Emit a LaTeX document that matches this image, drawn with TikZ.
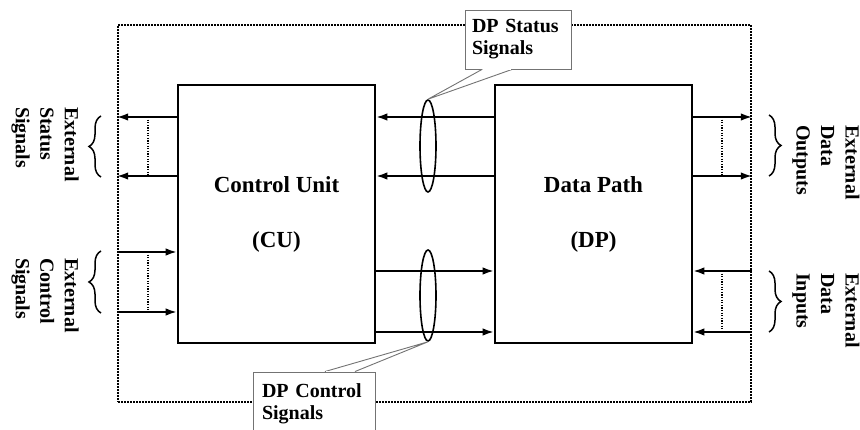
\documentclass[tikz,border=0pt]{standalone}
\usepackage{fontspec}
\setmainfont{Liberation Serif}
\usetikzlibrary{positioning,shapes.geometric,decorations.pathreplacing,arrows.meta}
\tikzset{
    % the two big blocks (control unit and data path)
    unit/.style={
        draw=black,
        line width=2.6pt,
        minimum width=197pt,
        minimum height=258pt,
        inner sep=0pt,
        align=center,
        font=\fontsize{23}{55}\selectfont\bfseries
    },
    % a signal line with its arrow head
    sig/.style={line width=1.7pt, -{Latex[length=11pt,width=7.5pt]}},
    % the ring round a bundle of signals
    bundle/.style={ellipse, draw, line width=1.6pt, minimum width=16pt, inner sep=0pt},
    % dotted "and more" line between two signals
    more/.style={line width=1.6pt, dash pattern=on 1.3pt off 1.3pt, black},
    curly/.style={decorate, decoration={brace, amplitude=12pt}, line width=1.5pt},
    sidelabel/.style={
        rotate=-90,
        anchor=west,
        inner sep=0pt,
        align=left,
        font=\fontsize{20}{24.5}\selectfont\bfseries
    },
    note/.style={
        draw=black!55,
        fill=white,
        line width=0.9pt,
        inner ysep=0pt,
        minimum height=59pt,
        align=left,
        font=\fontsize{20}{22}\selectfont\bfseries
    },
    tail/.style={draw=black!55, fill=white, line width=0.9pt}
}
\begin{document}
\begin{tikzpicture}[x=1pt,y=1pt]
    \clip (0,0) rectangle (860,430);

    % --- system boundary ---
    \node[draw, line width=1.7pt, dash pattern=on 1.6pt off 1.4pt,
          minimum width=633pt, minimum height=377pt, inner sep=0pt] (frame) at (434.5,216.5) {};

    % --- the two blocks ---
    \node[unit] (cu) at (276.5,216) {Control Unit\\(CU)};
    \node[unit] (dp) at (593.5,216) {Data Path\\(DP)};

    % --- external status signals (left, out) ---
    \draw[sig] (cu.west |- 0,313) -- (frame.west |- 0,313);
    \draw[sig] (cu.west |- 0,254) -- (frame.west |- 0,254);
    \draw[more] (148,313) -- (148,254);
    \draw[curly] (101,253) -- (101,314);
    \node[sidelabel] (extstat) at (45,323) {External\\Status\\Signals};

    % --- external control signals (left, in) ---
    \draw[sig] (frame.west |- 0,178) -- (cu.west |- 0,178);
    \draw[sig] (frame.west |- 0,118) -- (cu.west |- 0,118);
    \draw[more] (148,178) -- (148,118);
    \draw[curly] (101,117) -- (101,179);
    \node[sidelabel] (extctrl) at (45,172) {External\\Control\\Signals};

    % --- DP status signals (DP -> CU) ---
    \draw[sig] (dp.west |- 0,313) -- (cu.east |- 0,313);
    \draw[sig] (dp.west |- 0,254) -- (cu.east |- 0,254);
    \node[bundle, minimum height=92pt] (statring) at (428,284) {};

    % --- DP control signals (CU -> DP) ---
    \draw[sig] (cu.east |- 0,159) -- (dp.west |- 0,159);
    \draw[sig] (cu.east |- 0,98) -- (dp.west |- 0,98);
    \node[bundle, minimum height=91pt] (ctrlring) at (428,134.5) {};

    % --- external data outputs (right, out) ---
    \draw[sig] (dp.east |- 0,313) -- (frame.east |- 0,313);
    \draw[sig] (dp.east |- 0,254) -- (frame.east |- 0,254);
    \draw[more] (722,313) -- (722,254);
    \draw[curly] (769,315) -- (769,254);
    \node[sidelabel] (extout) at (826,305) {External\\Data\\Outputs};

    % --- external data inputs (right, in) ---
    \draw[sig] (frame.east |- 0,159) -- (dp.east |- 0,159);
    \draw[sig] (frame.east |- 0,98) -- (dp.east |- 0,98);
    \draw[more] (722,159) -- (722,98);
    \draw[curly] (769,159) -- (769,98);
    \node[sidelabel] (extin) at (826,157) {External\\Data\\Inputs};

    % --- callouts ---
    \node[note, inner xsep=7pt, text width=92pt] (statnote) at (518,390.5) {DP Status\\Signals};
    \draw[tail] (statnote.south -| 482,0) -- (statring.north) -- (statnote.south -| 512,0);
    \draw[white, line width=1.6pt] (statnote.south -| 483,0) -- (statnote.south -| 511,0);

    \node[note, inner xsep=9pt, text width=104pt, minimum height=64pt] (ctrlnote) at (314,26) {DP Control\\Signals};
    \draw[tail] (ctrlnote.north -| 325,0) -- (ctrlring.south) -- (ctrlnote.north -| 355,0);
    \draw[white, line width=1.6pt] (ctrlnote.north -| 326,0) -- (ctrlnote.north -| 354,0);
\end{tikzpicture}
\end{document}
